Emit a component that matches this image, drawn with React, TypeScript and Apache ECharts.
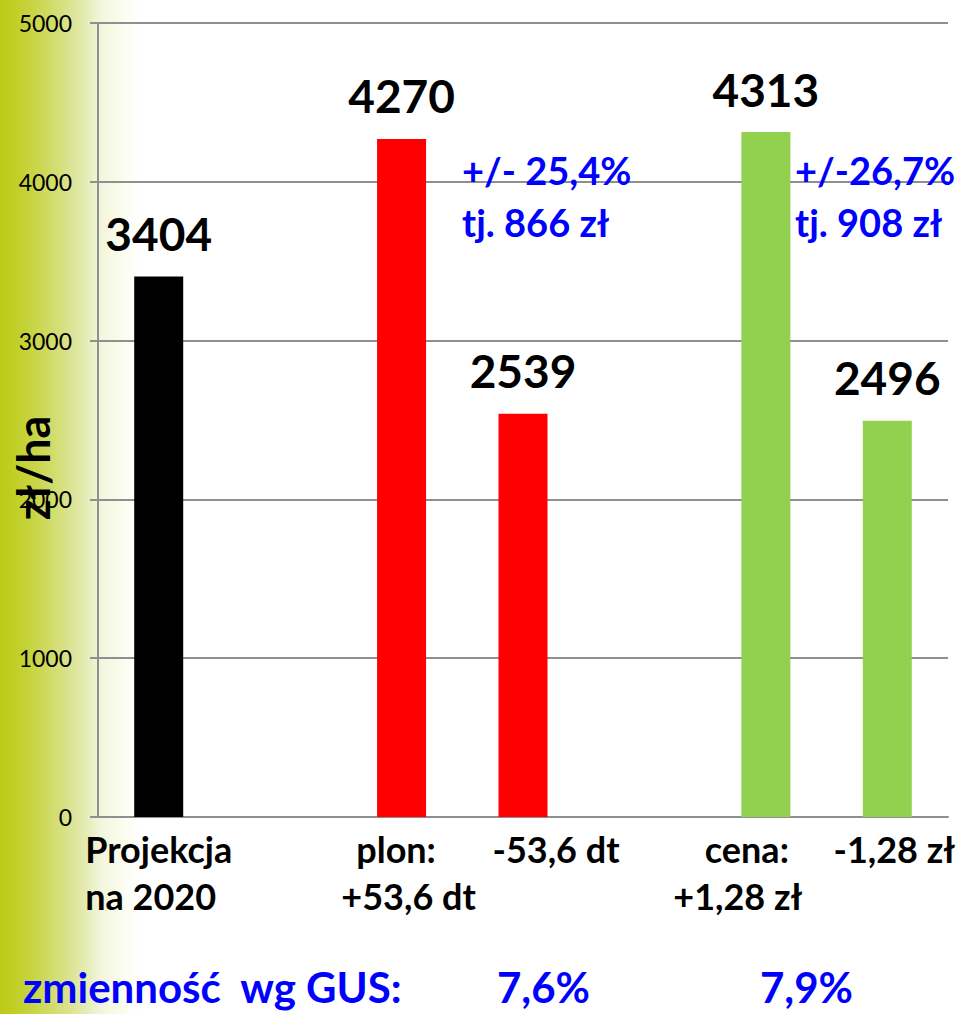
import React, { useEffect, useRef } from "react";
import * as echarts from "echarts";

const categories = ["Projekcja\nna 2020", "", "plon:\n+53,6 dt", "-53,6 dt", "", "cena:\n+1,28 zł", "-1,28 zł"];
const values: (number | string)[] = [3404, "-", 4270, 2539, "-", 4313, 2496];
const barColors = ["#000000", "#000000", "#ff0000", "#ff0000", "#92d050", "#92d050", "#92d050"];
const yMin = 0;
const yMax = 5000;
const yInterval = 1000;
const yAxisTitle = "zł/ha";
const annotations = ["+/- 25,4%\ntj. 866 zł", "+/-26,7%\ntj. 908 zł"];
const gusLabel = "zmienność  wg GUS:";
const gusValues = ["7,6%", "7,9%"];

const FONT = "Lato, 'Noto Sans', sans-serif";

// per-category, per-line horizontal shifts of the axis labels (layout only)
const labelShifts: (number | "left")[][] = [[0, "left"], [], [-5.5, 7], [33], [], [-19, -28], [7]];

export default function App() {
  const ref = useRef<HTMLDivElement>(null);
  useEffect(() => {
    if (!ref.current) return;
    const chart = echarts.init(ref.current, null, { renderer: "svg" });

    const rich: Record<string, any> = {};
    labelShifts.forEach((lines, i) => {
      lines.forEach((s, j) => {
        const st: any = {
          fontFamily: FONT,
          fontSize: 36,
          fontWeight: "bold",
          color: "#000",
          lineHeight: 47,
        };
        if (s === "left") st.align = "left";
        else if (s > 0) st.padding = [0, 0, 0, 2 * s];
        else if (s < 0) st.padding = [0, -2 * s, 0, 0];
        rich[`s${i}_${j}`] = st;
      });
    });

    const option: any = {
      animation: false,
      grid: { left: 98, right: 13, top: 23, bottom: 197, containLabel: false },
      xAxis: {
        type: "category",
        data: categories,
        axisTick: { show: false },
        axisLine: { lineStyle: { color: "#8f8f8f", width: 2 } },
        axisLabel: {
          interval: 0,
          margin: 8,
          fontFamily: FONT,
          fontSize: 36,
          fontWeight: "bold",
          color: "#000",
          rich,
          formatter: (value: string, index: number) =>
            value === ""
              ? ""
              : value
                  .split("\n")
                  .map((line, j) => `{s${index}_${j}|${line}}`)
                  .join("\n"),
        },
      },
      yAxis: {
        type: "value",
        min: yMin,
        max: yMax,
        interval: yInterval,
        axisLine: { show: true, lineStyle: { color: "#8f8f8f", width: 2 } },
        axisTick: { show: true, length: 8, lineStyle: { color: "#8f8f8f", width: 2 } },
        splitLine: { lineStyle: { color: "#8f8f8f", width: 2 } },
        axisLabel: {
          margin: 26,
          fontFamily: FONT,
          fontSize: 23,
          color: "#000",
          formatter: (v: number) => String(v),
        },
      },
      series: [
        {
          type: "bar",
          barWidth: 49,
          data: values.map((v, i) => ({ value: v, itemStyle: { color: barColors[i] } })),
          label: {
            show: true,
            position: "top",
            distance: 20,
            fontFamily: FONT,
            fontSize: 46,
            fontWeight: "bold",
            color: "#000",
          },
        },
      ],
      graphic: [
        {
          type: "rect",
          z: -100,
          silent: true,
          shape: { x: 0, y: 0, width: 140, height: 1014 },
          style: {
            fill: new echarts.graphic.LinearGradient(0, 0, 1, 0, [
              { offset: 0, color: "#bccb16" },
              { offset: 0.07, color: "#bfcd20" },
              { offset: 0.24, color: "#c8d545" },
              { offset: 0.48, color: "#d9e28a" },
              { offset: 0.64, color: "#e7eebf" },
              { offset: 0.72, color: "#f3f6dc" },
              { offset: 0.84, color: "#f9fbea" },
              { offset: 0.93, color: "#fdfef7" },
              { offset: 1, color: "#ffffff" },
            ]),
          },
        },
        {
          type: "text",
          x: 33,
          y: 468,
          rotation: Math.PI / 2,
          style: {
            text: yAxisTitle,
            align: "center",
            verticalAlign: "middle",
            fontFamily: FONT,
            fontSize: 45,
            fontWeight: "bold",
            fill: "#000",
          },
        },
        ...annotations.map((t, i) => ({
          type: "text",
          x: i === 0 ? 462 : 795,
          y: 196,
          z: 10,
          style: {
            text: t,
            align: "left",
            verticalAlign: "middle",
            lineHeight: 52,
            fontFamily: FONT,
            fontSize: 38,
            fontWeight: "bold",
            fill: "#0000ff",
          },
        })),
        {
          type: "text",
          x: 23,
          y: 987,
          style: {
            text: gusLabel,
            align: "left",
            verticalAlign: "middle",
            fontFamily: FONT,
            fontSize: 42,
            fontWeight: "bold",
            fill: "#0000ff",
          },
        },
        ...gusValues.map((t, i) => ({
          type: "text",
          x: i === 0 ? 497 : 760,
          y: 987,
          style: {
            text: t,
            align: "left",
            verticalAlign: "middle",
            fontFamily: FONT,
            fontSize: 42,
            fontWeight: "bold",
            fill: "#0000ff",
          },
        })),
      ],
    };
    chart.setOption(option);
    return () => chart.dispose();
  }, []);
  return <div ref={ref} style={{ position: "absolute", left: 0, top: 0, width: 961, height: 1014 }} />;
}
